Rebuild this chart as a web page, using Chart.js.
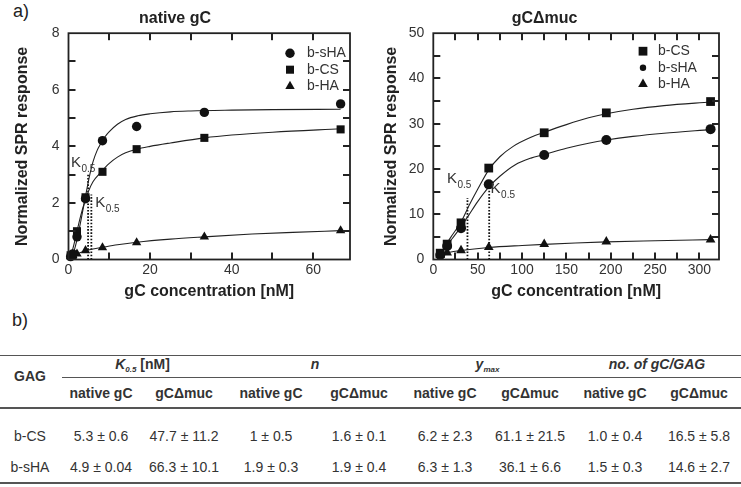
<!DOCTYPE html>
<html>
<head>
<meta charset="utf-8">
<script src="https://cdn.jsdelivr.net/npm/chart.js@4.4.1/dist/chart.umd.min.js"></script>
<style>
  html, body { margin:0; padding:0; background:#fff; }
  body { width:741px; height:487px; position:relative; overflow:hidden; font-family:'Liberation Sans', Arial, sans-serif; color:#333; }
  .abs { position:absolute; }
  #c1wrap { position:absolute; left:0; top:0; width:370px; height:310px; }
  #c2wrap { position:absolute; left:370px; top:0; width:371px; height:310px; }
  .panel { font-size:18px; color:#222; }
  .cell { position:absolute; transform:translate(-50%,-50%); white-space:nowrap; font-size:14px; color:#333; }
  .hd { font-weight:bold; }
  .it { font-style:italic; }
  .hline { position:absolute; background:#555; }
  sub { font-size:8px; vertical-align:-3px; line-height:0; }
</style>
</head>
<body>
<div class="abs panel" style="left:13px; top:1px;">a)</div>
<div class="abs panel" style="left:12px; top:310px;">b)</div>
<div id="c1wrap"><canvas id="c1" width="370" height="310"></canvas></div>
<div id="c2wrap"><canvas id="c2" width="371" height="310"></canvas></div>
<div id="table"></div>
<script>
// ---------------- DATA ----------------
// native gC panel
const nativeConc = [0.52, 1.04, 2.08, 4.17, 8.33, 16.7, 33.3, 66.7];
const nativeSHA  = [0.10, 0.20, 0.80, 2.15, 4.20, 4.70, 5.20, 5.50];
const nativeCS   = [0.15, 0.15, 1.00, 2.20, 3.10, 3.90, 4.30, 4.60];
const nativeHA   = [0.10, 0.15, 0.20, 0.32, 0.42, 0.60, 0.80, 1.02];
// fitted curves
const nativeFitSHA_x = [0, 1, 2, 3, 4, 5, 6, 7, 8, 9, 10, 12, 14, 17, 20, 25, 30, 40, 50, 66.7];
const nativeFitSHA_y = [0, 0.15, 0.65, 1.35, 2.1, 2.85, 3.45, 3.85, 4.12, 4.35, 4.52, 4.78, 4.95, 5.08, 5.15, 5.22, 5.25, 5.28, 5.30, 5.31];
const nativeFitCS_x  = [0, 1, 2, 3, 4, 5, 6, 8, 10, 12, 14, 16.7, 20, 25, 33.3, 40, 50, 66.7];
const nativeFitCS_y  = [0, 0.35, 0.95, 1.55, 2.05, 2.45, 2.75, 3.1, 3.4, 3.62, 3.77, 3.9, 4.0, 4.12, 4.3, 4.4, 4.5, 4.62];
const nativeFitHA_x  = [0.5, 2, 4, 6, 8.33, 12, 16.7, 25, 33.3, 45, 55, 66.7];
const nativeFitHA_y  = [0.13, 0.2, 0.3, 0.37, 0.43, 0.52, 0.61, 0.72, 0.8, 0.9, 0.96, 1.02];
const nativeK05_x = [4.8, 5.6];
const nativeK05_y = [3.05, 2.3];

// gCΔmuc panel
const mucConc = [7.8, 15.6, 31.25, 62.5, 125, 195, 312.5];
const mucCS   = [1.4, 3.4, 8.1, 20.2, 28.0, 32.4, 34.9];
const mucSHA  = [1.0, 3.0, 6.9, 16.6, 23.1, 26.4, 28.8];
const mucHA   = [1.0, 1.5, 2.0, 2.7, 3.4, 3.95, 4.4];
const mucFitCS_x  = [5, 10, 15, 20, 31.25, 40, 50, 62.5, 75, 90, 110, 125, 150, 175, 195, 225, 260, 312.5];
const mucFitCS_y  = [0.7, 2.0, 3.5, 5.0, 8.3, 11.8, 15.5, 19.8, 22.7, 25.0, 27.0, 28.1, 29.8, 31.3, 32.2, 33.2, 34.0, 34.8];
const mucFitSHA_x = [5, 10, 15.6, 20, 31.25, 40, 50, 62.5, 75, 92, 110, 125, 150, 175, 195, 225, 260, 312.5];
const mucFitSHA_y = [0.6, 1.7, 3.2, 4.3, 7.2, 9.8, 12.8, 16.0, 18.4, 20.9, 22.4, 23.2, 24.6, 25.7, 26.4, 27.2, 27.9, 28.7];
const mucFitHA_x  = [5, 15.6, 31.25, 62.5, 100, 125, 160, 195, 250, 312.5];
const mucFitHA_y  = [1.0, 1.5, 2.0, 2.65, 3.1, 3.35, 3.65, 3.9, 4.15, 4.4];
const mucK05_x = [38.5, 63];
const mucK05_y = [13.6, 15.5];

// tick labels
const nativeXTicks = [0, 20, 40, 60];
const nativeYTicks = [0, 2, 4, 6, 8];
const mucXTicks = [0, 50, 100, 150, 200, 250, 300];
const mucYTicks = [0, 10, 20, 30, 40, 50];

// table
const tableGroups = ['K0.5 [nM]', 'n', 'ymax', 'no. of gC/GAG'];
const tableSubs = ['native gC', 'gCΔmuc'];
const tableGAG = ['b-CS', 'b-sHA'];
const tableK05 = [['5.3 ± 0.6', '47.7 ± 11.2'], ['4.9 ± 0.04', '66.3 ± 10.1']];
const tableN = [['1 ± 0.5', '1.6 ± 0.1'], ['1.9 ± 0.3', '1.9 ± 0.4']];
const tableYmax = [['6.2 ± 2.3', '61.1 ± 21.5'], ['6.3 ± 1.3', '36.1 ± 6.6']];
const tableNum = [['1.0 ± 0.4', '16.5 ± 5.8'], ['1.5 ± 0.3', '14.6 ± 2.7']];

// ---------------- HELPERS ----------------
const FONT = "'Liberation Sans', Arial, sans-serif";
const zip = (xs, ys) => xs.map((x, i) => ({x, y: ys[i]}));

function pointsDS(label, xs, ys, style, r) {
  return { label, data: zip(xs, ys), showLine: false, pointStyle: style, pointRadius: r, pointHoverRadius: r,
    backgroundColor: '#111', borderColor: '#111', borderWidth: 0, clip: false, order: 0 };
}
function fitDS(xs, ys) {
  return { label: '_fit', data: zip(xs, ys), showLine: true, pointRadius: 0, borderColor: '#222', borderWidth: 1.1,
    cubicInterpolationMode: 'monotone', fill: false, order: 1 };
}
function dotDS(x, y) {
  return { label: '_k', data: [{x, y: 0}, {x, y}], showLine: true, pointRadius: 0, borderColor: '#111',
    borderWidth: 1.8, borderDash: [1.6, 1.6], fill: false, order: 1 };
}

function drawMarker(ctx, style, x, y, r) {
  ctx.beginPath();
  if (style === 'circle') { ctx.arc(x, y, r, 0, Math.PI * 2); }
  else if (style === 'rect') { const s = Math.SQRT1_2 * r; ctx.rect(x - s, y - s, 2 * s, 2 * s); }
  else if (style === 'triangle') {
    ctx.moveTo(x, y - r);
    ctx.lineTo(x + r * Math.sin(Math.PI * 2 / 3), y - r * Math.cos(Math.PI * 2 / 3));
    ctx.lineTo(x - r * Math.sin(Math.PI * 2 / 3), y - r * Math.cos(Math.PI * 2 / 3));
    ctx.closePath();
  }
  ctx.fill();
}

function makeFramePlugin(cfg) {
  return {
    id: 'frameTicks' + cfg.xMax,
    afterDraw(chart) {
      const ctx = chart.ctx, a = chart.chartArea, x = chart.scales.x, y = chart.scales.y;
      ctx.save();
      ctx.setLineDash([]);
      ctx.strokeStyle = '#222';
      ctx.lineWidth = 1.8;
      ctx.strokeRect(a.left, a.top, a.right - a.left, a.bottom - a.top);
      // inward tick marks on all four sides
      ctx.fillStyle = '#222';
      const L = 7, W = 2;
      const nx = Math.round(cfg.xMax / cfg.xMinor);
      for (let i = 1; i <= nx; i++) {
        const v = i * cfg.xMinor;
        if (v >= cfg.xMax) continue;
        const px = Math.round(x.getPixelForValue(v));
        ctx.fillRect(px - 1, a.bottom - L, W, L);
        ctx.fillRect(px - 1, a.top, W, L);
      }
      const ny = Math.round(cfg.yMax / cfg.yMinor);
      for (let i = 1; i < ny; i++) {
        const py = Math.round(y.getPixelForValue(i * cfg.yMinor));
        ctx.fillRect(a.left, py - 1, L, W);
        ctx.fillRect(a.right - L, py - 1, L, W);
      }
      // K0.5 annotations
      ctx.fillStyle = '#333';
      ctx.textBaseline = 'alphabetic';
      ctx.textAlign = 'left';
      cfg.kLabels.forEach(k => {
        const px = x.getPixelForValue(k.x), py = y.getPixelForValue(k.y);
        ctx.font = '15px ' + FONT;
        ctx.fillText('K', px, py);
        const w = ctx.measureText('K').width;
        ctx.font = '10px ' + FONT;
        ctx.fillText('0.5', px + w + 0.5, py + 5);
      });
      // inset legend
      const lg = cfg.legend;
      ctx.font = '14px ' + FONT;
      ctx.textBaseline = 'middle';
      lg.order.forEach((lab, i) => {
        const ds = chart.data.datasets.find(d => d.label === lab);
        const yy = a.top + lg.top + i * lg.gap;
        ctx.fillStyle = '#111';
        drawMarker(ctx, ds.pointStyle, a.right - lg.markerFromRight, yy, (lg.radii && lg.radii[lab]) || ds.pointRadius);
        ctx.fillStyle = '#333';
        ctx.fillText(lab, a.right - lg.textFromRight, yy);
      });
      ctx.restore();
    }
  };
}

function makeChart(id, cfg) {
  return new Chart(document.getElementById(id), {
    type: 'scatter',
    data: { datasets: cfg.datasets },
    plugins: [makeFramePlugin(cfg)],
    options: {
      responsive: false, animation: false, events: [],
      layout: { padding: { left: 0, right: cfg.padRight, top: 0, bottom: 0 } },
      plugins: {
        legend: { display: false }, tooltip: { enabled: false },
        title: { display: true, text: cfg.title, color: '#222', font: { family: FONT, size: 16, weight: 'bold' }, padding: { top: 9, bottom: 5 } }
      },
      scales: {
        x: {
          type: 'linear', min: 0, max: cfg.xMax,
          grid: { display: false, drawTicks: false }, border: { display: false },
          afterBuildTicks: s => { s.ticks = cfg.xTicks.map(v => ({value: v})); },
          ticks: { color: '#333', font: { family: FONT, size: 14 }, padding: 2, maxRotation: 0, autoSkip: false },
          title: { display: true, text: 'gC concentration [nM]', color: '#222', font: { family: FONT, size: 16, weight: 'bold' }, padding: { top: 0, bottom: 9 } },
          afterFit: s => { s.height = 310 - 259.5; }
        },
        y: {
          type: 'linear', min: 0, max: cfg.yMax,
          grid: { display: false, drawTicks: false }, border: { display: false },
          afterBuildTicks: s => { s.ticks = cfg.yTicks.map(v => ({value: v})); },
          ticks: { color: '#333', font: { family: FONT, size: 14 }, padding: 9, autoSkip: false },
          title: { display: true, text: 'Normalized SPR response', color: '#222', font: { family: FONT, size: 16, weight: 'bold' }, padding: { top: cfg.yTitlePad, bottom: 0 } },
          afterFit: s => { s.width = cfg.yWidth; }
        }
      }
    }
  });
}

makeChart('c1', {
  title: 'native gC', xMax: 69, yMax: 8, xTicks: nativeXTicks, yTicks: nativeYTicks, xMinor: 10, yMinor: 1,
  padRight: 20, yWidth: 68.5, yTitlePad: 13,
  datasets: [
    pointsDS('b-sHA', nativeConc, nativeSHA, 'circle', 4.7),
    pointsDS('b-CS', nativeConc, nativeCS, 'rect', 5.7),
    pointsDS('b-HA', nativeConc, nativeHA, 'triangle', 5.4),
    fitDS(nativeFitSHA_x, nativeFitSHA_y),
    fitDS(nativeFitCS_x, nativeFitCS_y),
    fitDS(nativeFitHA_x, nativeFitHA_y),
    dotDS(nativeK05_x[0], nativeK05_y[0]),
    dotDS(nativeK05_x[1], nativeK05_y[1])
  ],
  kLabels: [{x: 0.6, y: 3.27}, {x: 6.56, y: 1.86}],
  legend: { order: ['b-sHA', 'b-CS', 'b-HA'], top: 20, gap: 16.5, markerFromRight: 60, textFromRight: 43 }
});

makeChart('c2', {
  title: 'gCΔmuc', xMax: 322, yMax: 50, xTicks: mucXTicks, yTicks: mucYTicks, xMinor: 25, yMinor: 5,
  padRight: 22, yWidth: 63.3, yTitlePad: 12,
  datasets: [
    pointsDS('b-CS', mucConc, mucCS, 'rect', 6.2),
    pointsDS('b-sHA', mucConc, mucSHA, 'circle', 5.0),
    pointsDS('b-HA', mucConc, mucHA, 'triangle', 5.6),
    fitDS(mucFitCS_x, mucFitCS_y),
    fitDS(mucFitSHA_x, mucFitSHA_y),
    fitDS(mucFitHA_x, mucFitHA_y),
    dotDS(mucK05_x[0], mucK05_y[0]),
    dotDS(mucK05_x[1], mucK05_y[1])
  ],
  kLabels: [{x: 15.4, y: 17.0}, {x: 64.6, y: 14.8}],
  legend: { order: ['b-CS', 'b-sHA', 'b-HA'], top: 18, gap: 16.5, markerFromRight: 76, textFromRight: 61, radii: {'b-sHA': 3.2} }
});

// ---------------- TABLE ----------------
(function buildTable() {
  const t = document.getElementById('table');
  const colCenters = [30, 101, 184, 271, 359, 445, 530, 615, 699];
  const rowY = { group: 364, gag: 376, sub: 393, r0: 435.5, r1: 466.5 };
  const lines = [
    {x: 0, y: 354.5, w: 741, h: 1.6},
    {x: 62, y: 377, w: 679, h: 1.4},
    {x: 0, y: 406.5, w: 741, h: 2.2},
    {x: 0, y: 481.5, w: 741, h: 2.2}
  ];
  lines.forEach(l => {
    const d = document.createElement('div'); d.className = 'hline';
    Object.assign(d.style, {left: l.x + 'px', top: l.y + 'px', width: l.w + 'px', height: l.h + 'px'});
    t.appendChild(d);
  });
  const cell = (html, x, y, cls) => {
    const d = document.createElement('div'); d.className = 'cell ' + (cls || '');
    d.style.left = x + 'px'; d.style.top = y + 'px'; d.innerHTML = html; t.appendChild(d);
  };
  const groupHTML = [
    '<span class="it">K<sub>0.5</sub></span> [nM]',
    '<span class="it">' + tableGroups[1] + '</span>',
    '<span class="it">y<sub>max</sub></span>',
    '<span class="it">' + tableGroups[3] + '</span>'
  ];
  cell('GAG', colCenters[0], rowY.gag, 'hd');
  groupHTML.forEach((h, g) => cell(h, (colCenters[1 + 2 * g] + colCenters[2 + 2 * g]) / 2, rowY.group, 'hd'));
  for (let g = 0; g < 4; g++) {
    tableSubs.forEach((s, j) => cell(s, colCenters[1 + 2 * g + j], rowY.sub, 'hd'));
  }
  const groups = [tableK05, tableN, tableYmax, tableNum];
  tableGAG.forEach((name, r) => {
    const y = r === 0 ? rowY.r0 : rowY.r1;
    cell(name, colCenters[0], y);
    groups.forEach((arr, g) => arr[r].forEach((v, j) => cell(v, colCenters[1 + 2 * g + j], y)));
  });
})();
</script>
</body>
</html>
